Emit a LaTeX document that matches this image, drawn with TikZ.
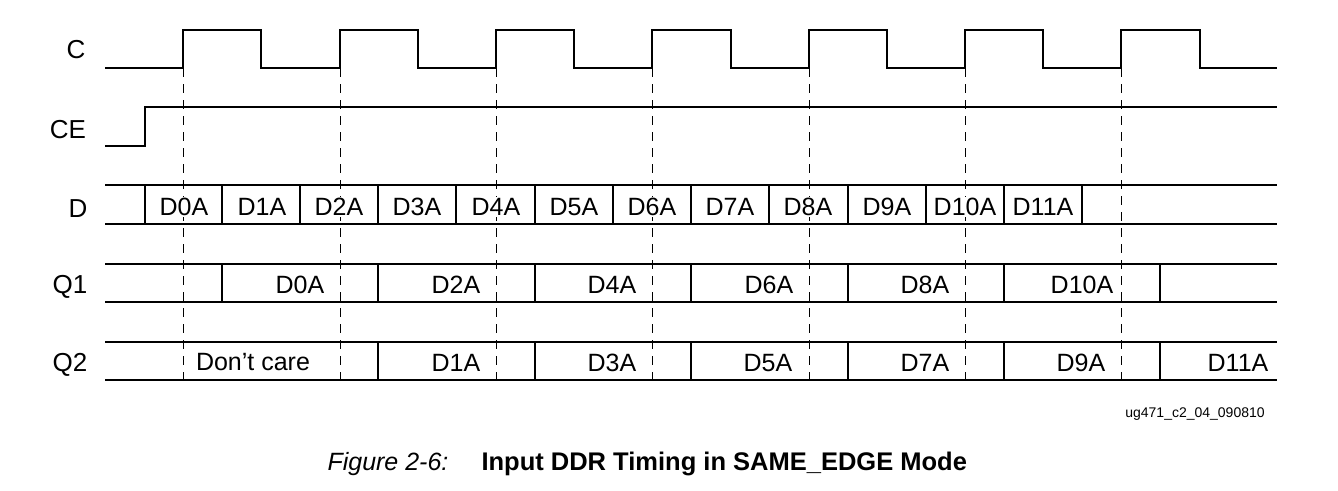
\documentclass[tikz,border=0pt]{standalone}
\usepackage{fontspec}
\setmainfont{Liberation Sans}
\begin{document}
\begin{tikzpicture}[x=1pt,y=-1pt,
  wave/.style={line width=2pt},
  edgeln/.style={line width=1pt,dash pattern=on 9pt off 7pt},
  sig/.style={font=\fontsize{26}{28}\selectfont},
  lbl/.style={font=\fontsize{25}{28}\selectfont,fill=white,inner sep=1pt}]
\useasboundingbox (0,0) rectangle (1338,490);
% signal names
\node[sig] (nC) at (76,50) {C};
\node[sig] (nCE) at (68,130) {CE};
\node[sig] (nD) at (78,209) {D};
\node[sig] (nQ1) at (70,287) {Q1};
\node[sig] (nQ2) at (70,365) {Q2};
% dashed lines
\foreach \x in {183,340,496,652,809,965,1121}
  \draw[edgeln] (\x,68) -- (\x,380);
% clock
\draw[wave] (105,68)
  \foreach \r/\f in {183/261,340/418,496/574,652/731,809/887,965/1043,1121/1200}
   { -- (\r,68) -- (\r,30) -- (\f,30) -- (\f,68) } -- (1277,68);
% CE
\draw[wave] (105,146) -- (145,146) -- (145,107) -- (1277,107);
% D bus
\draw[wave] (105,185) -- (1277,185) (105,224) -- (1277,224);
\foreach \x in {145,222,300,378,456,535,613,691,769,848,926,1004,1082}
  \draw[wave] (\x,185) -- (\x,224);
\foreach \c/\t [count=\i] in {184/D0A,262/D1A,339/D2A,417/D3A,496/D4A,574/D5A,652/D6A,730/D7A,808/D8A,887/D9A,965/D10A,1043/D11A}
  \node[lbl] (d\i) at (\c,207) {\t};
% Q1
\draw[wave] (105,264) -- (1277,264) (105,302) -- (1277,302);
\foreach \x in {222,378,535,691,848,1004,1160}
  \draw[wave] (\x,264) -- (\x,302);
\foreach \c/\t [count=\i] in {300/D0A,456/D2A,612/D4A,769/D6A,925/D8A,1082/D10A}
  \node[lbl] (qa\i) at (\c,285) {\t};
% Q2
\draw[wave] (105,342) -- (1277,342) (105,380) -- (1277,380);
\foreach \x in {378,535,691,848,1004,1160}
  \draw[wave] (\x,342) -- (\x,380);
\node[lbl] (dc) at (253,362) {Don\char"0027 t care};
\foreach \c/\t [count=\i] in {456/D1A,612/D3A,768/D5A,925/D7A,1081/D9A,1238/D11A}
  \node[lbl] (qb\i) at (\c,363) {\t};
% id and caption
\node[font=\fontsize{14}{16}\selectfont] (id) at (1195,414) {ug471\_c2\_04\_090810};
\node[font=\fontsize{25}{28}\selectfont\itshape,anchor=west] (fig) at (324,464) {Figure 2-6:};
\node[font=\fontsize{25.5}{28}\selectfont\bfseries,anchor=west] (cap) at (478,464) {Input DDR Timing in SAME\_EDGE Mode};
\end{tikzpicture}
\end{document}
